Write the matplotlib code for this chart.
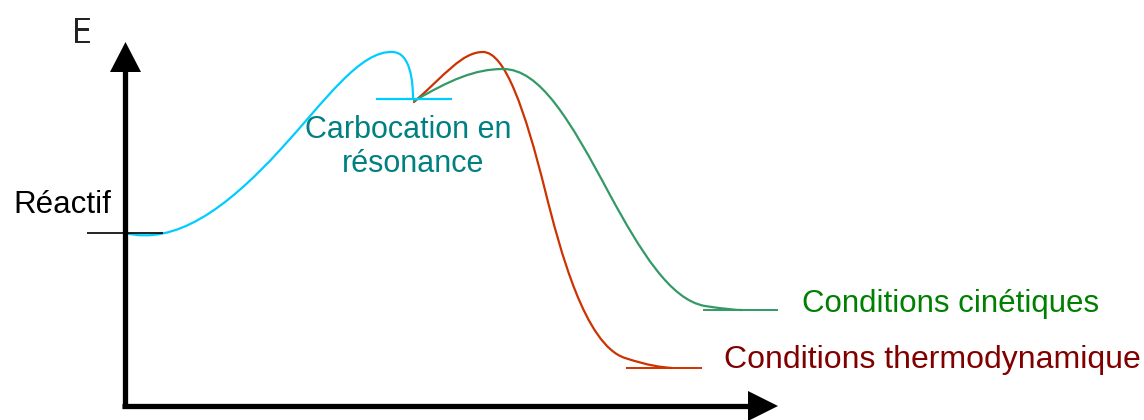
import matplotlib
matplotlib.use("Agg")
import matplotlib.pyplot as plt
import matplotlib.patheffects as pe
from matplotlib.path import Path
from matplotlib.patches import PathPatch, Polygon

# --- data: energy profile control points (pixel space, y downward) ---------
# each curve = start point followed by cubic Bezier triplets
cyan_pts = [(125, 233),
            (175, 245), (225, 210), (280, 150),
            (325, 101), (360, 50), (393, 52),
            (410, 53), (413, 80), (413, 99)]
red_pts = [(414, 102),
           (445, 75), (462, 52), (483, 52),
           (505, 52), (525, 110), (545, 190),
           (560, 250), (585, 345), (625, 358),
           (650, 366), (660, 367), (672, 368)]
green_pts = [(414, 101),
             (450, 80), (475, 69), (503, 69),
             (540, 69), (570, 120), (610, 195),
             (640, 250), (670, 300), (705, 306),
             (725, 309), (735, 310), (742, 310)]

# energy levels: (x_start, x_end, y)
level_reactif = (87, 163, 233)
level_carbo = (376, 452, 99)
level_cin = (703, 778, 310)
level_thermo = (626, 702, 368)

labels = ["Réactif", "Carbocation en", "résonance", "Conditions cinétiques",
          "Conditions thermodynamique"]

CYAN = "#00ccff"
RED = "#cc3300"
GREEN = "#339966"

plt.rcParams["font.family"] = ["Liberation Sans", "DejaVu Sans"]

fig = plt.figure(figsize=(11.44, 4.2), dpi=100)
ax = fig.add_axes([0, 0, 1, 1])
ax.set_xlim(0, 1144)
ax.set_ylim(420, 0)
ax.axis("off")


def bezier(pts, color):
    codes = [Path.MOVETO] + [Path.CURVE4] * (len(pts) - 1)
    ax.add_patch(PathPatch(Path(pts, codes), fill=False, edgecolor=color,
                           lw=1.6, capstyle="round", joinstyle="round"))


bezier(cyan_pts, CYAN)
bezier(red_pts, RED)
bezier(green_pts, GREEN)

# level lines
for (x0, x1, y), c, lw in [(level_reactif, "black", 1.2), (level_carbo, CYAN, 1.6),
                           (level_cin, GREEN, 1.4), (level_thermo, RED, 1.4)]:
    ax.plot([x0, x1], [y, y], color=c, lw=lw, solid_capstyle="butt")

# axes with arrow heads
ax.plot([124.5, 124.5], [408, 70], color="black", lw=3.8, solid_capstyle="butt")
ax.add_patch(Polygon([(110, 72), (141, 72), (125.5, 42)], closed=True,
                     facecolor="black", edgecolor="none"))
ax.plot([122, 750], [406, 406], color="black", lw=3.8, solid_capstyle="butt")
ax.add_patch(Polygon([(748, 391), (748, 421), (778, 406)], closed=True,
                     facecolor="black", edgecolor="none", clip_on=False))

# texts
ax.text(71, 42, "E", fontsize=24, fontweight="light", color="#222222",
        family=["DejaVu Sans"], va="baseline", ha="left",
        path_effects=[pe.withStroke(linewidth=0.7, foreground="#222222")])
ax.text(13, 213, labels[0], fontsize=22.5, color="black", va="baseline")
ax.text(408, 138, labels[1], fontsize=22, color="#008080", va="baseline", ha="center")
ax.text(413, 172, labels[2], fontsize=22, color="#008080", va="baseline", ha="center")
ax.text(802, 312, labels[3], fontsize=22.5, color="#008000", va="baseline")
ax.text(724, 368, labels[4], fontsize=23, color="#800000", va="baseline")

fig.savefig("out.png", dpi=100)
